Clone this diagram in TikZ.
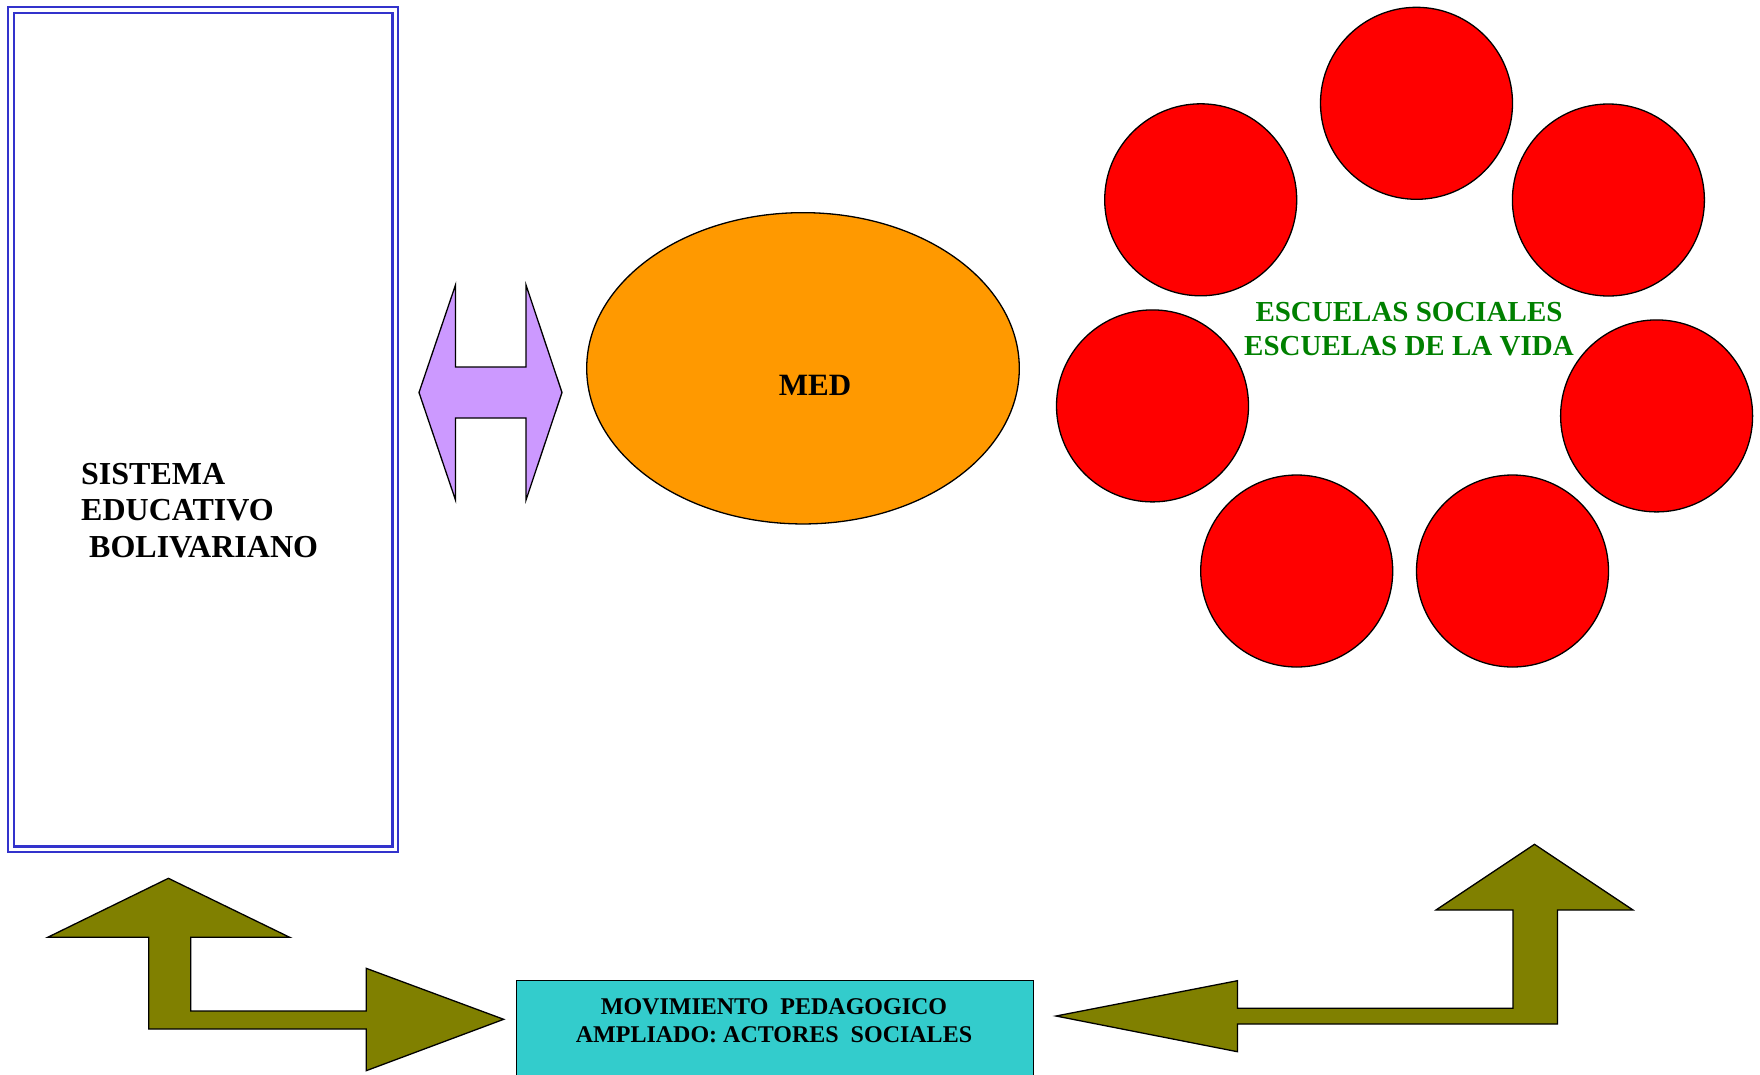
\documentclass[tikz,border=0pt]{standalone}
\usepackage{fontspec}
\setmainfont{Liberation Serif}
\usetikzlibrary{shapes.geometric}

\definecolor{sebblue}{RGB}{51,51,204}
\definecolor{medorange}{RGB}{255,153,0}
\definecolor{arrowlilac}{RGB}{204,153,255}
\definecolor{arrowolive}{RGB}{128,128,0}
\definecolor{movteal}{RGB}{51,204,204}
\definecolor{schoolgreen}{RGB}{0,128,0}

\tikzset{
  school/.style={circle, draw, fill=red, line width=1.3pt, inner sep=0pt, minimum size=192pt},
  blockarrow/.style={draw, line width=1.3pt, line join=miter},
  sebframe/.style={draw=sebblue, line width=2.2pt, inner sep=0pt}
}

\begin{document}
\begin{tikzpicture}[x=1pt, y=-1pt]
    \useasboundingbox (0,0) rectangle (1760,1074);
    \clip (0,0) rectangle (1760,1074);

    \node[sebframe, minimum width=390.5pt, minimum height=845.2pt] (sebouter) at (203.05,429.4) {};
    \node[sebframe, minimum width=378.7pt, minimum height=833.5pt] (sebinner) at (203.15,429.75) {};
    \node[anchor=base west, align=left, inner sep=0pt, font=\fontsize{32}{36.5}\selectfont\bfseries] (sebtext) at (81,557) {SISTEMA\\EDUCATIVO\\\ BOLIVARIANO};

    \filldraw[blockarrow, fill=arrowlilac] (419,392.5) -- (455.5,285) -- (455.5,367) -- (526,367) -- (526,285)
      -- (562,392.5) -- (526,500) -- (526,418) -- (455.5,418) -- (455.5,500) -- cycle;

    \node[ellipse, draw, fill=medorange, line width=1.3pt, inner sep=0pt, minimum width=432.6pt, minimum height=311.3pt] (med) at (803,368.3) {};
    \node[anchor=base, inner sep=0pt, font=\fontsize{31}{36}\selectfont\bfseries] (medtext) at (815,395) {MED};

    \foreach \cx/\cy/\nm in {1416.5/103.3/s1, 1200.7/199.8/s2, 1608.4/200/s3, 1152.5/405.9/s4,
                             1656.6/415.9/s5, 1296.7/571/s6, 1512.5/571/s7}
      \node[school] (\nm) at (\cx,\cy) {};
    \node[anchor=base, align=center, inner sep=0pt, text=schoolgreen, font=\fontsize{29}{34}\selectfont\bfseries] (schooltext) at (1409,355.6) {ESCUELAS SOCIALES\\ESCUELAS DE LA VIDA};

    \node[draw, fill=movteal, line width=1.3pt, anchor=north west, inner sep=0pt, minimum width=517pt, minimum height=140pt] (mov) at (515.6,980) {};
    \node[anchor=base, align=center, inner sep=0pt, font=\fontsize{24}{28}\selectfont\bfseries] (movtext) at (774,1042) {MOVIMIENTO\ \ PEDAGOGICO\\AMPLIADO: ACTORES\ \ SOCIALES};

    \filldraw[blockarrow, fill=arrowolive] (168.4,878.3) -- (289.7,937.3) -- (190.8,937.3) -- (190.8,1011) -- (366.2,1011)
      -- (366.2,968.3) -- (503.7,1019.3) -- (366.2,1070.7) -- (366.2,1029) -- (148.7,1029) -- (148.7,937.3) -- (47.7,937.3) -- cycle;
    \filldraw[blockarrow, fill=arrowolive] (1056,1016) -- (1237.4,980.7) -- (1237.4,1008.3) -- (1513,1008.3) -- (1513,910)
      -- (1436,910) -- (1534.5,844.3) -- (1633,910) -- (1557.5,910) -- (1557.5,1024) -- (1237.4,1024) -- (1237.4,1051.7) -- cycle;
\end{tikzpicture}
\end{document}
